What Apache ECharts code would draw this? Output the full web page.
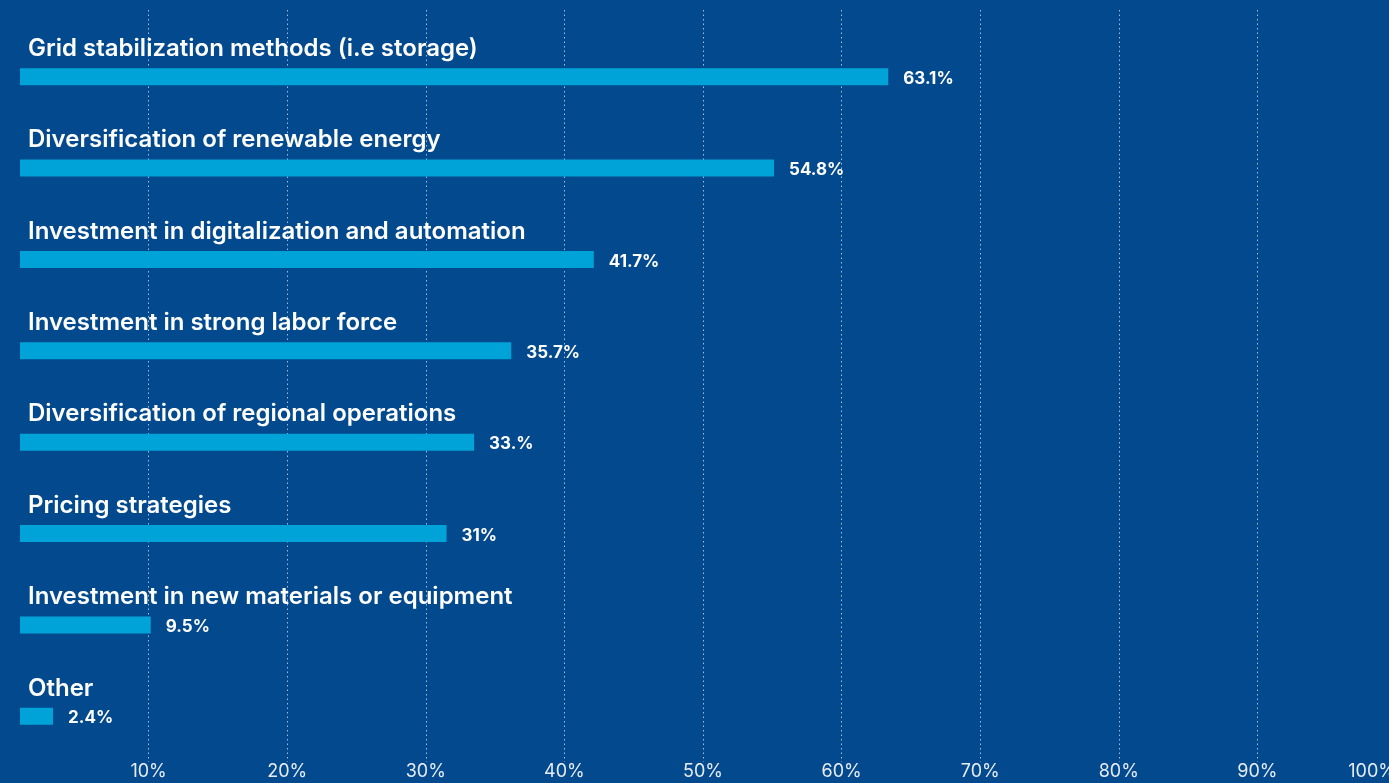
<!DOCTYPE html>
<html>
<head>
<meta charset="utf-8">
<script src="https://cdn.jsdelivr.net/npm/echarts@6/dist/echarts.min.js"></script>
<style>
  html, body { margin: 0; padding: 0; background: #03498D; }
  #chart { width: 1389px; height: 783px; }
</style>
</head>
<body>
<div id="chart"></div>
<script>
// Responses, top to bottom
const categories = [
  'Grid stabilization methods (i.e storage)',
  'Diversification of renewable energy',
  'Investment in digitalization and automation',
  'Investment in strong labor force',
  'Diversification of regional operations',
  'Pricing strategies',
  'Investment in new materials or equipment',
  'Other'
];
// Share of respondents (%)
const values = [63.1, 54.8, 41.7, 35.7, 33, 31, 9.5, 2.4];
// Value labels as printed next to each bar
const valueLabels = ['63.1%', '54.8%', '41.7%', '35.7%', '33.%', '31%', '9.5%', '2.4%'];
// Scale ticks
const tickValues = [10, 20, 30, 40, 50, 60, 70, 80, 90, 100];

const chart = echarts.init(document.getElementById('chart'), null, { renderer: 'canvas' });

const FONT = 'Inter, "Noto Sans", sans-serif';

chart.setOption({
  backgroundColor: '#03498D',
  animation: false,
  grid: [
    // reference scale with dotted gridlines and percent ticks
    { left: 10, top: 10, width: 1386, bottom: 21, containLabel: false, outerBoundsMode: 'none' },
    // bars
    { left: 20, top: 31, width: 1376, bottom: 21, containLabel: false, outerBoundsMode: 'none' }
  ],
  xAxis: [
    {
      gridIndex: 0,
      type: 'value',
      min: 0,
      max: 100,
      interval: 10,
      axisLine: { show: false },
      axisTick: { show: false },
      splitLine: {
        show: true,
        showMinLine: false,
        lineStyle: { color: 'rgba(220,230,245,0.75)', type: [1.5, 3], width: 1 }
      },
      axisLabel: {
        color: '#E6ECF5',
        fontFamily: FONT,
        fontSize: 18,
        margin: 1,
        alignMaxLabel: 'right',
        formatter: function (v) {
          return tickValues.indexOf(v) >= 0 ? v + '%' : '';
        }
      }
    },
    {
      gridIndex: 1,
      type: 'value',
      min: 0,
      max: 100,
      show: false,
      splitLine: { show: false }
    }
  ],
  yAxis: [
    {
      gridIndex: 0,
      type: 'category',
      data: categories,
      inverse: true,
      show: false
    },
    {
      gridIndex: 1,
      type: 'category',
      data: categories,
      inverse: true,
      axisLine: { show: false },
      axisTick: { show: false },
      splitLine: { show: false },
      axisLabel: {
        inside: true,
        margin: 8,
        color: '#FFFFFF',
        fontFamily: FONT,
        fontSize: 24,
        fontWeight: 600,
        align: 'left',
        verticalAlign: 'bottom',
        padding: [0, 0, 16, 0]
      }
    }
  ],
  series: [
    {
      type: 'bar',
      xAxisIndex: 1,
      yAxisIndex: 1,
      data: values,
      barWidth: 17,
      itemStyle: { color: '#00A3D7' },
      label: {
        show: true,
        position: 'right',
        distance: 15,
        offset: [0, 2],
        color: '#FFFFFF',
        fontFamily: FONT,
        fontSize: 17,
        fontWeight: 700,
        formatter: function (p) { return valueLabels[p.dataIndex]; }
      }
    }
  ]
});
</script>
</body>
</html>
